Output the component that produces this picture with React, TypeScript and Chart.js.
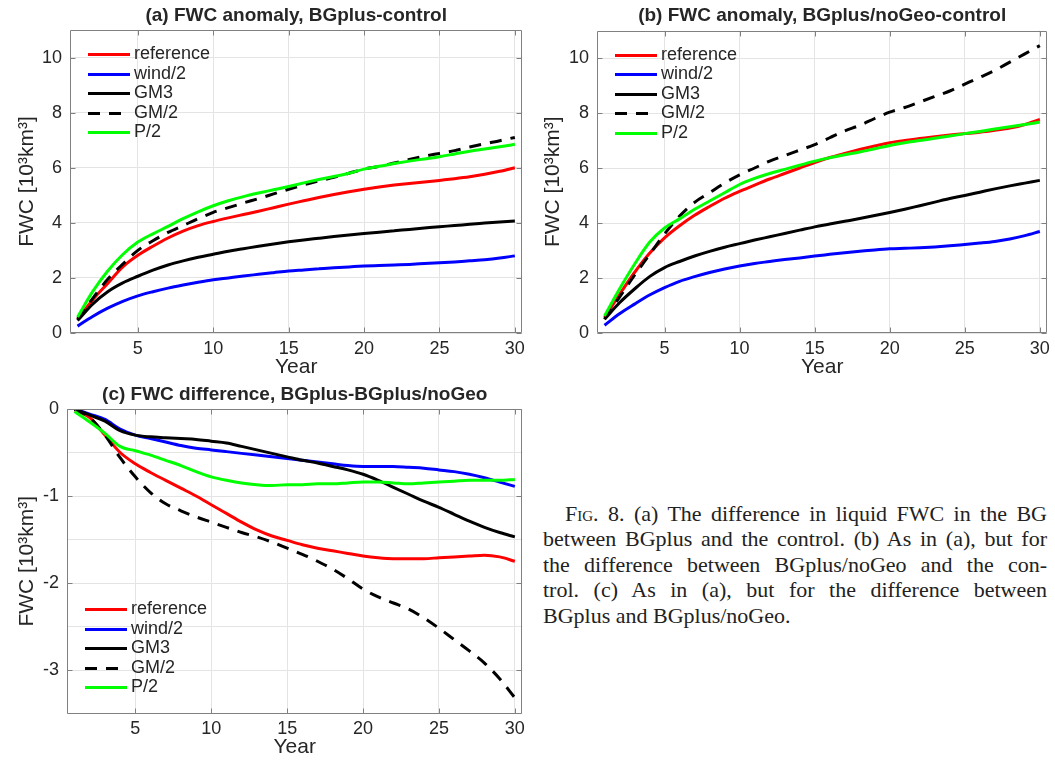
import React, { useEffect, useRef } from 'react';
import { Chart, registerables } from 'chart.js';

Chart.register(...registerables);

// ---------------- data ----------------
const years = [1, 2, 3, 4, 5, 6, 7, 8, 9, 10, 11, 12, 13, 14, 15, 16, 17, 18, 19, 20, 21, 22, 23, 24, 25, 26, 27, 28, 29, 30];

const seriesLabels = ['reference', 'wind/2', 'GM3', 'GM/2', 'P/2'];
const seriesColors = ['#ff0000', '#0000ff', '#000000', '#000000', '#00ff00'];
const seriesDashed = [false, false, false, true, false];

// (a) FWC anomaly, BGplus-control
const aReference = [0.5, 1.2, 1.8, 2.4, 2.82, 3.15, 3.45, 3.7, 3.9, 4.05, 4.18, 4.3, 4.42, 4.55, 4.68, 4.8, 4.92, 5.03, 5.13, 5.22, 5.3, 5.37, 5.43, 5.48, 5.54, 5.6, 5.67, 5.76, 5.87, 6.0];
const aWind = [0.25, 0.6, 0.9, 1.15, 1.35, 1.5, 1.63, 1.74, 1.84, 1.93, 2.0, 2.07, 2.13, 2.19, 2.25, 2.29, 2.33, 2.37, 2.4, 2.43, 2.45, 2.47, 2.49, 2.52, 2.55, 2.58, 2.62, 2.66, 2.72, 2.8];
const aGM3 = [0.45, 1.05, 1.5, 1.82, 2.06, 2.28, 2.47, 2.62, 2.75, 2.86, 2.97, 3.06, 3.15, 3.23, 3.31, 3.38, 3.44, 3.5, 3.56, 3.61, 3.66, 3.71, 3.76, 3.81, 3.86, 3.9, 3.95, 3.99, 4.03, 4.07];
const aGMhalf = [0.5, 1.25, 1.95, 2.5, 3.0, 3.35, 3.65, 3.9, 4.15, 4.38, 4.55, 4.72, 4.88, 5.05, 5.22, 5.38, 5.52, 5.65, 5.8, 5.95, 6.05, 6.17, 6.3, 6.42, 6.52, 6.62, 6.75, 6.87, 6.98, 7.1];
const aP = [0.58, 1.5, 2.25, 2.85, 3.3, 3.6, 3.87, 4.15, 4.4, 4.62, 4.8, 4.95, 5.08, 5.2, 5.32, 5.45, 5.57, 5.68, 5.8, 5.95, 6.05, 6.15, 6.24, 6.32, 6.4, 6.5, 6.6, 6.68, 6.76, 6.85];

// (b) FWC anomaly, BGplus/noGeo-control
const bReference = [0.55, 1.4, 2.2, 2.9, 3.46, 3.9, 4.28, 4.6, 4.9, 5.15, 5.38, 5.6, 5.8, 6.0, 6.2, 6.38, 6.53, 6.67, 6.8, 6.92, 7.0, 7.07, 7.14, 7.2, 7.25, 7.3, 7.37, 7.45, 7.58, 7.77];
const bWind = [0.28, 0.7, 1.05, 1.38, 1.65, 1.88, 2.05, 2.2, 2.33, 2.44, 2.53, 2.6, 2.67, 2.73, 2.8, 2.86, 2.92, 2.97, 3.02, 3.06, 3.08, 3.1, 3.13, 3.17, 3.22, 3.27, 3.33, 3.42, 3.54, 3.69];
const bGM3 = [0.5, 1.1, 1.6, 2.05, 2.38, 2.6, 2.8, 2.97, 3.12, 3.25, 3.38, 3.5, 3.62, 3.74, 3.86, 3.96, 4.06, 4.16, 4.27, 4.38, 4.5, 4.63, 4.76, 4.89, 5.0, 5.12, 5.24, 5.35, 5.45, 5.55];
const bGMhalf = [0.5, 1.3, 2.1, 2.85, 3.6, 4.25, 4.75, 5.1, 5.45, 5.75, 6.0, 6.25, 6.45, 6.65, 6.85, 7.1, 7.35, 7.55, 7.8, 8.03, 8.2, 8.4, 8.6, 8.8, 9.05, 9.3, 9.55, 9.85, 10.15, 10.45];
const bP = [0.62, 1.6, 2.5, 3.3, 3.82, 4.15, 4.5, 4.8, 5.1, 5.4, 5.62, 5.8, 5.95, 6.1, 6.25, 6.37, 6.48, 6.58, 6.7, 6.82, 6.92, 7.0, 7.08, 7.16, 7.25, 7.33, 7.42, 7.5, 7.58, 7.67];

// (c) FWC difference, BGplus-BGplus/noGeo
const cReference = [-0.01, -0.1, -0.3, -0.5, -0.63, -0.73, -0.82, -0.91, -1.0, -1.1, -1.2, -1.3, -1.39, -1.46, -1.51, -1.56, -1.6, -1.63, -1.66, -1.69, -1.71, -1.72, -1.72, -1.72, -1.71, -1.7, -1.69, -1.68, -1.7, -1.75];
const cWind = [0, -0.06, -0.12, -0.23, -0.3, -0.34, -0.38, -0.42, -0.45, -0.47, -0.49, -0.51, -0.53, -0.55, -0.57, -0.59, -0.61, -0.63, -0.65, -0.66, -0.66, -0.66, -0.67, -0.68, -0.7, -0.72, -0.75, -0.79, -0.84, -0.89];
const cGM3 = [0, -0.07, -0.14, -0.25, -0.3, -0.32, -0.33, -0.34, -0.35, -0.37, -0.39, -0.43, -0.47, -0.51, -0.55, -0.59, -0.62, -0.66, -0.7, -0.75, -0.82, -0.9, -0.98, -1.06, -1.13, -1.21, -1.29, -1.36, -1.42, -1.47];
const cGMhalf = [0, -0.1, -0.3, -0.56, -0.78, -0.96, -1.09, -1.17, -1.24, -1.3, -1.36, -1.42, -1.47, -1.53, -1.6, -1.67, -1.75, -1.84, -1.95, -2.07, -2.16, -2.23, -2.3, -2.4, -2.52, -2.65, -2.78, -2.92, -3.1, -3.32];
const cP = [-0.03, -0.15, -0.28, -0.43, -0.48, -0.53, -0.59, -0.65, -0.72, -0.78, -0.82, -0.85, -0.87, -0.88, -0.87, -0.87, -0.86, -0.86, -0.85, -0.84, -0.84, -0.85, -0.86, -0.85, -0.84, -0.83, -0.82, -0.82, -0.82, -0.81];

// ticks
const xTicks = [5, 10, 15, 20, 25, 30];
const yTicksAB = [0, 2, 4, 6, 8, 10];
const yGridC = [0, -0.5, -1, -1.5, -2, -2.5, -3, -3.5];
const yLabelsC = [0, -1, -2, -3];

const titleA = '(a) FWC anomaly, BGplus-control';
const titleB = '(b) FWC anomaly, BGplus/noGeo-control';
const titleC = '(c) FWC difference, BGplus-BGplus/noGeo';
const xAxisTitle = 'Year';
const yAxisTitle = 'FWC [10³km³]';

// ---------------- styling ----------------
const FONT = '"Liberation Sans", Arial, Helvetica, sans-serif';
const TEXT = '#262626';
const GRID = '#e4e4e4';
const BOX = '#808080';
const DASH = [12, 9];

Chart.defaults.font.family = FONT;
Chart.defaults.color = TEXT;

const boxPlugin = {
  id: 'matlabBox',
  afterDatasetsDraw(chart: any, _args: any, opts: any) {
    const { ctx, chartArea } = chart;
    const l = Math.round(chartArea.left) + 0.5;
    const r = Math.round(chartArea.right) - 0.5;
    const t = Math.round(chartArea.top) + 0.5;
    const b = Math.round(chartArea.bottom) - 0.5;
    ctx.save();
    ctx.strokeStyle = BOX;
    ctx.lineWidth = 1;
    ctx.setLineDash([]);
    ctx.beginPath();
    ctx.rect(l, t, r - l, b - t);
    const xs = chart.scales.x;
    const ys = chart.scales.y;
    const tl = 5;
    xs.ticks.forEach((tk: any) => {
      const px = Math.round(xs.getPixelForValue(tk.value)) + 0.5;
      ctx.moveTo(px, b); ctx.lineTo(px, b - tl);
      ctx.moveTo(px, t); ctx.lineTo(px, t + tl);
    });
    const labeled: number[] = opts.yLabeled;
    ys.ticks.forEach((tk: any) => {
      if (labeled && !labeled.includes(tk.value)) return;
      const py = Math.round(ys.getPixelForValue(tk.value)) + 0.5;
      ctx.moveTo(l, py); ctx.lineTo(l + tl, py);
      ctx.moveTo(r, py); ctx.lineTo(r - tl, py);
    });
    ctx.stroke();
    ctx.restore();
  },
};

const legendPlugin = {
  id: 'inlineLegend',
  afterDatasetsDraw(chart: any, _args: any, opts: any) {
    const { ctx, chartArea } = chart;
    const x0 = chartArea.left + opts.dx;
    ctx.save();
    chart.data.datasets.forEach((ds: any, i: number) => {
      const yy = Math.round(chartArea.top + opts.dy + i * opts.rowH) + 0.5;
      ctx.beginPath();
      ctx.strokeStyle = ds.borderColor;
      ctx.lineWidth = ds.borderWidth;
      ctx.lineCap = 'butt';
      ctx.setLineDash(ds.borderDash || []);
      ctx.moveTo(x0, yy);
      ctx.lineTo(x0 + opts.lineLen, yy);
      ctx.stroke();
      ctx.setLineDash([]);
      ctx.fillStyle = TEXT;
      ctx.font = `${opts.fontSize}px ${FONT}`;
      ctx.textBaseline = 'middle';
      ctx.textAlign = 'left';
      ctx.fillText(ds.label, x0 + opts.lineLen + opts.gap, yy);
    });
    ctx.restore();
  },
};

type PanelProps = {
  left: number; top: number; width: number; height: number;
  title: string;
  series: number[][];
  yMin: number; yMax: number;
  yTicks: number[];
  yLabeled?: number[];
  yAxisW: number; xAxisH: number; topH: number; padRight: number;
  titlePadTop: number;
  yTitlePad: number;
  legendDy: number;
};

function Panel(p: PanelProps) {
  const ref = useRef<HTMLCanvasElement>(null);
  useEffect(() => {
    if (!ref.current) return;
    const datasets = seriesLabels.map((lab, i) => ({
      label: lab,
      data: p.series[i].map((v, j) => ({ x: years[j], y: v })),
      borderColor: seriesColors[i],
      backgroundColor: seriesColors[i],
      borderWidth: 3,
      borderDash: seriesDashed[i] ? DASH : [],
      pointRadius: 0,
      cubicInterpolationMode: 'monotone' as const,
      fill: false,
      order: seriesLabels.length - 1 - i,
    }));
    const chart = new Chart(ref.current, {
      type: 'line',
      data: { datasets },
      options: {
        animation: false,
        responsive: false,
        maintainAspectRatio: false,
        layout: { padding: { left: 0, right: p.padRight, top: 0, bottom: 0 } },
        plugins: {
          legend: { display: false },
          tooltip: { enabled: false },
          title: { display: false },
          matlabBox: { yLabeled: p.yLabeled },
          inlineLegend: { dx: 18, dy: p.legendDy, rowH: 19.6, lineLen: 42, gap: 4, fontSize: 18 },
        } as any,
        scales: {
          x: {
            type: 'linear',
            position: 'bottom',
            min: 0.5,
            max: 30.5,
            afterBuildTicks: (s: any) => { s.ticks = xTicks.map((v) => ({ value: v })); },
            afterFit: (s: any) => { s.height = p.xAxisH; },
            ticks: { font: { size: 18 }, color: TEXT, padding: 5, maxRotation: 0, autoSkip: false, callback: (v: any) => String(v) },
            grid: { color: GRID, drawTicks: false, lineWidth: 1 },
            border: { display: false },
            title: { display: true, text: xAxisTitle, color: TEXT, font: { size: 21 }, padding: { top: 0, bottom: 0 } },
          },
          // top axis only carries the panel title, centred over the plot box
          xTitle: {
            type: 'linear',
            position: 'top',
            min: 0.5,
            max: 30.5,
            afterFit: (s: any) => { s.height = p.topH; },
            ticks: { display: false },
            grid: { display: false, drawTicks: false },
            border: { display: false },
            title: { display: true, text: p.title, color: TEXT, font: { size: 19, weight: 'bold' }, padding: { top: p.titlePadTop, bottom: 0 } },
          },
          y: {
            type: 'linear',
            min: p.yMin,
            max: p.yMax,
            afterBuildTicks: (s: any) => { s.ticks = p.yTicks.map((v) => ({ value: v })); },
            afterFit: (s: any) => { s.width = p.yAxisW; },
            ticks: {
              font: { size: 18 }, color: TEXT, padding: 8, autoSkip: false,
              callback: (v: any) => (p.yLabeled && !p.yLabeled.includes(v) ? '' : String(v)),
            },
            grid: { color: GRID, drawTicks: false, lineWidth: 1 },
            border: { display: false },
            title: { display: true, text: yAxisTitle, color: TEXT, font: { size: 21 }, padding: { top: p.yTitlePad, bottom: 0 } },
          },
        } as any,
      },
      plugins: [boxPlugin as any, legendPlugin as any],
    });
    return () => chart.destroy();
  }, []);
  return (
    <canvas
      ref={ref}
      width={p.width}
      height={p.height}
      style={{ position: 'absolute', left: p.left, top: p.top, width: p.width, height: p.height }}
    />
  );
}

const captionLines = [
  'The difference in liquid FWC in the BG',
  'between BGplus and the control. (b) As in (a), but for',
  'the difference between BGplus/noGeo and the con-',
  'trol. (c) As in (a), but for the difference between',
  'BGplus and BGplus/noGeo.',
];

export default function App() {
  const lineH = 25.5;
  return (
    <div style={{ position: 'absolute', left: 0, top: 0, width: 1055, height: 760, background: '#fff', overflow: 'hidden' }}>
      <Panel left={0} top={0} width={530} height={380} title={titleA}
        series={[aReference, aWind, aGM3, aGMhalf, aP]}
        yMin={0} yMax={11} yTicks={yTicksAB}
        yAxisW={70} xAxisH={47} topH={30} padRight={4}
        titlePadTop={4.5} yTitlePad={14.5} legendDy={24} />
      <Panel left={530} top={0} width={525} height={380} title={titleB}
        series={[bReference, bWind, bGM3, bGMhalf, bP]}
        yMin={0} yMax={11} yTicks={yTicksAB}
        yAxisW={67} xAxisH={47} topH={30.5} padRight={4}
        titlePadTop={4.5} yTitlePad={11} legendDy={24} />
      <Panel left={0} top={380} width={530} height={380} title={titleC}
        series={[cReference, cWind, cGM3, cGMhalf, cP]}
        yMin={-3.5} yMax={0} yTicks={yGridC} yLabeled={yLabelsC}
        yAxisW={67} xAxisH={46.5} topH={29} padRight={4}
        titlePadTop={3.6} yTitlePad={14.5} legendDy={200} />
      <div style={{ position: 'absolute', left: 543, top: 513.5 - lineH / 2, width: 504, fontFamily: '"Liberation Serif", "Times New Roman", serif', fontSize: 22, color: '#222' }}>
        {captionLines.map((ln, i) => (
          <div key={i} style={{ height: lineH, lineHeight: `${lineH}px`, whiteSpace: 'nowrap', textAlign: i < 4 ? 'justify' : 'left', textAlignLast: i < 4 ? 'justify' : 'left', textIndent: i === 0 ? 22 : 0 } as any}>
            {i === 0 ? (
              <>
                F<span style={{ fontVariant: 'small-caps' }}>ig</span>. 8. (a) {ln}
              </>
            ) : ln}
          </div>
        ))}
      </div>
    </div>
  );
}
